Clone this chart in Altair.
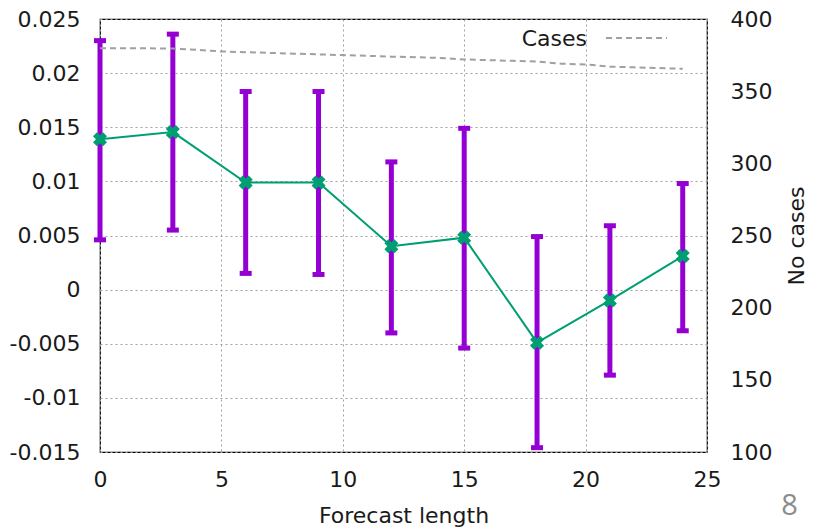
import altair as alt
import pandas as pd

# ---- data ----
lead = [0, 3, 6, 9, 12, 15, 18, 21, 24]
mean_err = [0.0139, 0.01455, 0.0099, 0.0099, 0.0040, 0.0048, -0.0049, -0.0010, 0.0031]
upper = [0.0230, 0.0236, 0.0183, 0.0183, 0.0118, 0.0149, 0.0049, 0.0059, 0.0098]
lower = [0.0046, 0.0055, 0.0015, 0.0014, -0.0040, -0.0054, -0.0146, -0.0079, -0.0038]

case_lead = list(range(25))
cases = [379.7, 379.7, 379.7, 379.5, 378.6, 377.5, 377.0, 376.5, 376.0, 375.5,
         375.0, 374.5, 373.9, 373.5, 373.0, 372.0, 371.5, 371.0, 370.5, 369.0,
         368.5, 367.0, 366.5, 366.0, 365.5]

x_ticks = [0, 5, 10, 15, 20, 25]
y_ticks = [-0.015, -0.01, -0.005, 0, 0.005, 0.01, 0.015, 0.02, 0.025]
y2_ticks = [100, 150, 200, 250, 300, 350, 400]

legend_label = "Cases"
slide_number = "8"

err = pd.DataFrame({"lead": lead, "mean": mean_err, "upper": upper, "lower": lower})
cdf = pd.DataFrame({"lead": case_lead, "cases": cases})

FONT = "DejaVu Sans"
TXT = "#1a1a1a"
PURPLE = "#9400d3"
GREEN = "#009e73"
GRAY = "#a0a0a0"
FS = 22

x_enc = alt.X(
    "lead:Q",
    scale=alt.Scale(domain=[0, 25], nice=False, zero=False),
    axis=alt.Axis(values=x_ticks, title="Forecast length", grid=True,
                  gridDash=[2, 3], gridColor=GRAY, gridWidth=1,
                  ticks=False, tickSize=0, domain=False, labelPadding=17,
                  titlePadding=15, labelFlush=False, format="d"),
)

y_scale = alt.Scale(domain=[-0.015, 0.025], nice=False, zero=False)
y_axis = alt.Axis(values=y_ticks, labelExpr="'' + datum.value", title=None,
                  grid=True, gridDash=[2, 3], gridColor=GRAY, gridWidth=1,
                  ticks=False, tickSize=0, domain=False, labelPadding=20,
                  labelFlush=False)

bars = alt.Chart(err).mark_rule(color=PURPLE, strokeWidth=5).encode(
    x=x_enc,
    y=alt.Y("lower:Q", scale=y_scale, axis=y_axis),
    y2="upper:Q",
)

caps = alt.Chart(err).transform_fold(["upper", "lower"], as_=["end", "val"]).mark_tick(
    orient="horizontal", size=12, thickness=5, color=PURPLE, opacity=1
).encode(
    x=x_enc,
    y=alt.Y("val:Q", scale=y_scale, axis=y_axis),
)

line = alt.Chart(err).mark_line(color=GREEN, strokeWidth=2).encode(
    x=x_enc,
    y=alt.Y("mean:Q", scale=y_scale, axis=y_axis),
)

pts = alt.Chart(err).mark_point(shape="cross", angle=45, filled=True, size=200,
                                color=GREEN, opacity=1).encode(
    x=x_enc,
    y=alt.Y("mean:Q", scale=y_scale, axis=y_axis),
)

left = alt.layer(bars, caps, line, pts)

right = alt.Chart(cdf).mark_line(color=GRAY, strokeWidth=2, strokeDash=[6, 4]).encode(
    x=x_enc,
    y=alt.Y("cases:Q", scale=alt.Scale(domain=[100, 400], nice=False, zero=False),
            axis=alt.Axis(values=y2_ticks, orient="right", title="No cases",
                          grid=False, ticks=False, tickSize=0, domain=False,
                          labelPadding=23, titleAngle=270, titlePadding=37,
                          labelFlush=False)),
)

one = alt.Data(values=[{"k": 1}])
leg_text = alt.Chart(one).mark_text(
    text=legend_label, align="right", baseline="alphabetic",
    font=FONT, fontSize=FS, color=TXT
).encode(x=alt.value(487), y=alt.value(27))

leg_line = alt.Chart(one).mark_rule(
    color=GRAY, strokeWidth=2, strokeDash=[6, 4]
).encode(x=alt.value(506), x2=alt.value(567), y=alt.value(19))

slide = alt.Chart(one).mark_text(
    text=slide_number, align="center", baseline="middle",
    font="Open Sans", fontSize=29, color="#8c8c8c"
).encode(x=alt.value(689.5), y=alt.value(487))

chart = alt.layer(left, right, leg_text, leg_line, slide).resolve_scale(
    y="independent"
).properties(
    width=607, height=433,
    autosize=alt.AutoSizeParams(type="none"),
    padding={"left": 92, "top": 11, "right": 104, "bottom": 77},
    background="white",
).configure_view(
    stroke="#000000", strokeWidth=1.2
).configure_axis(
    labelFont=FONT, labelFontSize=FS, labelColor=TXT,
    titleFont=FONT, titleFontSize=FS, titleColor=TXT, titleFontWeight="normal",
)

chart.save("out.html", embed_options={"renderer": "svg", "actions": False})
